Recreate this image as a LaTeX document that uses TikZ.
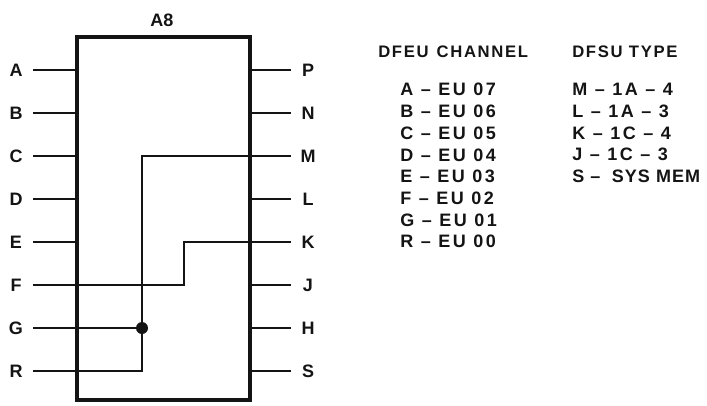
\documentclass[tikz,border=0pt]{standalone}
\usepackage{fontspec}
\setmainfont{Liberation Sans}
\usetikzlibrary{positioning,calc}
\definecolor{ink}{HTML}{141414}
\tikzset{
  chip/.style={draw=ink, line width=2.3pt, minimum width=129.75pt, minimum height=272.25pt, inner sep=0pt},
  title/.style={font=\bfseries\fontsize{13.5}{13.5}\selectfont, text=ink, inner sep=0pt},
  pinlbl/.style={font=\bfseries\fontsize{13.5}{13.5}\selectfont, text=ink, minimum width=25.5pt, inner sep=0pt},
  pinline/.style={draw=ink, line width=1.7pt},
  head/.style={font=\bfseries\fontsize{12.5}{12.5}\selectfont\addfontfeature{LetterSpace=10}, text=ink, inner sep=0pt, anchor=west},
  list/.style={font=\bfseries\fontsize{13.5}{16.3}\selectfont\addfontfeature{LetterSpace=14}, text=ink, align=left, inner sep=0pt, anchor=north west},
  joint/.style={fill=ink}
}

\begin{document}
\begin{tikzpicture}[x=0.75pt, y=-0.75pt]
\useasboundingbox (0,0) rectangle (707,405);
% module A8
\node[chip] (a8) at (163.5,218.5) {};
\node[title] (ttl) at (162,20) {A8};
% left pins
\node[pinlbl] (A) at (16,70) {A};
\node[pinlbl] (B) at (16,113) {B};
\node[pinlbl] (C) at (16,156) {C};
\node[pinlbl] (D) at (16,199) {D};
\node[pinlbl] (E) at (16,242) {E};
\node[pinlbl] (F) at (16,285) {F};
\node[pinlbl] (G) at (16,328) {G};
\node[pinlbl] (R) at (16,371) {R};
% right pins
\node[pinlbl] (P) at (308,70) {P};
\node[pinlbl] (N) at (308,113) {N};
\node[pinlbl] (M) at (308,156) {M};
\node[pinlbl] (L) at (308,199) {L};
\node[pinlbl] (K) at (308,242) {K};
\node[pinlbl] (J) at (308,285) {J};
\node[pinlbl] (H) at (308,328) {H};
\node[pinlbl] (S) at (308,371) {S};
\draw[pinline] (A.east) -- (A.east -| a8.west);
\draw[pinline] (B.east) -- (B.east -| a8.west);
\draw[pinline] (C.east) -- (C.east -| a8.west);
\draw[pinline] (D.east) -- (D.east -| a8.west);
\draw[pinline] (E.east) -- (E.east -| a8.west);
\draw[pinline] (P.west) -- (P.west -| a8.east);
\draw[pinline] (N.west) -- (N.west -| a8.east);
\draw[pinline] (L.west) -- (L.west -| a8.east);
\draw[pinline] (J.west) -- (J.west -| a8.east);
\draw[pinline] (H.west) -- (H.west -| a8.east);
\draw[pinline] (S.west) -- (S.west -| a8.east);
% internal straps
\coordinate (jG) at (142,328);
\coordinate (jF) at (184,285);
\draw[pinline] (R.east) -| (jG |- M.west) -- (M.west);
\draw[pinline] (G.east) -- (jG);
\draw[pinline] (F.east) -- (jF) |- (K.west);
\fill[joint] (jG) circle[radius=4.5pt];
% channel and type tables
\node[head] (chhd) at (378,52) {DFEU\hspace{6pt}CHANNEL};
\node[head] (tyhd) at (572,52) {DFSU TYPE};
\node[list] (chls) at (400,83) {A -- EU 07\\B -- EU 06\\C -- EU 05\\D -- EU 04\\E -- EU 03\\F -- EU 02\\G -- EU 01\\R -- EU 00};
\node[list] (tyls) at (572,83) {M -- 1A -- 4\\L -- 1A -- 3\\K -- 1C -- 4\\J -- 1C -- 3\\{\addfontfeature{LetterSpace=6}S -- \hspace{4pt}SYS MEM}};
\end{tikzpicture}
\end{document}
